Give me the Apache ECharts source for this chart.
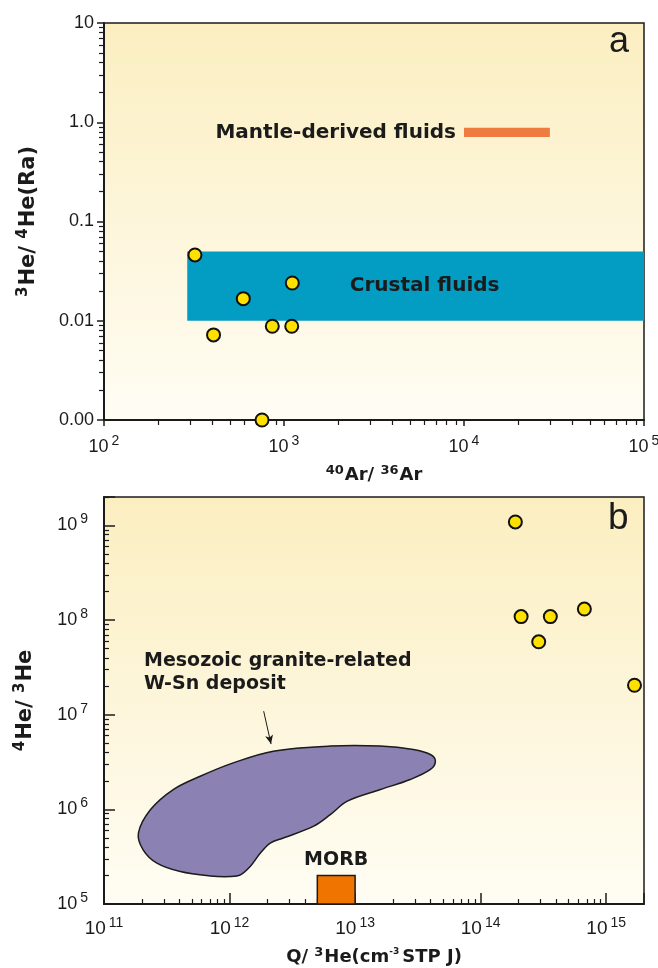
<!DOCTYPE html>
<html>
<head>
<meta charset="utf-8">
<script src="https://cdn.jsdelivr.net/npm/echarts@6/dist/echarts.min.js"></script>
<style>
  html, body { margin: 0; padding: 0; background: #fff; }
  #chart { width: 658px; height: 968px; }
</style>
</head>
<body>
<div id="chart"></div>
<script>
// ---- panel a: 40Ar/36Ar vs 3He/4He (Ra) ----
var arRatio = [320, 406, 594, 861, 1104, 1112, 755];
var heRa = [0.046, 0.0072, 0.0167, 0.0088, 0.0088, 0.024, 0.001];
var yTickValsA = [0.001, 0.01, 0.1, 1, 10];
var yTickLabelsA = ['0.00', '0.01', '0.1', '1.0', '10'];
var crustalX = [290, 100000];
var crustalY = [0.01, 0.05];
var mantleX = [10000, 30000];
var mantleY = [0.71, 0.88];

// ---- panel b: Q/3He vs 4He/3He ----
var q3He = [1.89e14, 2.1e14, 3.59e14, 6.7e14, 2.9e14, 1.68e15];
var he4He3 = [1.09e9, 1.09e8, 1.09e8, 1.31e8, 5.9e7, 2.05e7];
var morbX = [5e12, 1e13];
var morbY = [1e5, 2e5];
// outline of the Mesozoic granite-related W-Sn field
var fieldX = [1.88e11, 2.34e11, 3.56e11, 5.84e11, 1.07e12, 2.23e12, 6.34e12, 1.59e13, 2.91e13, 3.98e13,
  4.36e13, 3.98e13, 2.75e13, 1.59e13, 8.67e12, 6.34e12, 4.64e12, 2.68e12, 2.11e12, 1.76e12,
  1.46e12, 1.22e12, 1.01e12, 7.02e11, 4.05e11, 2.64e11, 2.05e11];
var fieldY = [5.62e5, 9.9e5, 1.62e6, 2.24e6, 3.1e6, 4.12e6, 4.66e6, 4.66e6, 4.3e6, 3.8e6,
  3.23e6, 2.64e6, 2.07e6, 1.62e6, 1.22e6, 8.79e5, 6.6e5, 4.98e5, 4.4e5, 3.45e5,
  2.49e5, 2.03e5, 1.95e5, 1.98e5, 2.2e5, 2.7e5, 3.74e5];
var arrowFrom = [1.87e12, 1.09e7];
var arrowTo = [2.14e12, 4.9e6];

var FONT = '"Liberation Sans", Arial, sans-serif';
var BOLD = '"DejaVu Sans", sans-serif';
var INK = '#1b1b1b';

function minorTicks(lo, hi) {
  var out = [];
  for (var d = lo; d < hi; d++) {
    for (var m = 2; m <= 9; m++) out.push(m * Math.pow(10, d));
  }
  return out;
}

function powLabel(v) {
  var e = Math.log10(v);
  if (Math.abs(e - Math.round(e)) > 1e-6) return '';
  return '{n|10}{s|' + Math.round(e) + '}';
}

function powRich(size) {
  return {
    n: { fontFamily: FONT, fontSize: size, color: INK },
    s: { fontFamily: FONT, fontSize: 14, color: INK, padding: [0, 0, 12, 3] }
  };
}

function nameRich(size, sup) {
  return {
    b: { fontFamily: BOLD, fontSize: size, fontWeight: 'bold', color: INK },
    s: { fontFamily: BOLD, fontSize: sup, fontWeight: 'bold', color: INK, padding: [0, 1, 10, 0] },
    t: { fontFamily: BOLD, fontSize: 9, fontWeight: 'bold', color: INK, padding: [0, 3, 12, 0] }
  };
}

function bg() {
  return {
    type: 'linear', x: 0, y: 0, x2: 0, y2: 1,
    colorStops: [{ offset: 0, color: '#fbeec0' }, { offset: 1, color: '#fffdf4' }]
  };
}

var chart = echarts.init(document.getElementById('chart'));

var minorAxis = function (grid, pos, lo, hi, min, max, inside) {
  return {
    type: 'log', gridIndex: grid, position: pos, min: min, max: max,
    axisLine: { show: false }, axisLabel: { show: false }, splitLine: { show: false },
    axisTick: { show: true, inside: inside, length: 5, customValues: minorTicks(lo, hi),
      lineStyle: { color: INK, width: 1.2 } }
  };
};

chart.setOption({
  animation: false,
  grid: [
    { left: 104, top: 23, width: 540, height: 397, show: true, backgroundColor: bg(),
      borderColor: INK, borderWidth: 1.5, outerBoundsMode: 'none', containLabel: false },
    { left: 104, top: 497, width: 540, height: 407, show: true, backgroundColor: bg(),
      borderColor: INK, borderWidth: 1.5, outerBoundsMode: 'none', containLabel: false }
  ],
  xAxis: [
    {
      type: 'log', gridIndex: 0, min: 100, max: 100000,
      name: '{s|40}{b|Ar/ }{s|36}{b|Ar}', nameLocation: 'middle', nameGap: 44,
      nameTextStyle: { rich: nameRich(18, 13) },
      axisLine: { lineStyle: { color: INK, width: 2 } },
      axisTick: { inside: false, length: 6, lineStyle: { color: INK, width: 1.5 } },
      axisLabel: { formatter: powLabel, rich: powRich(18), margin: 14 },
      splitLine: { show: false }
    },
    minorAxis(0, 'bottom', 2, 5, 100, 100000, false),
    {
      type: 'log', gridIndex: 1, min: 1e11, max: 2e15,
      name: '{b|Q/ }{s|3}{b|He(cm}{t|-3}{b|STP J)}', nameLocation: 'middle', nameGap: 42,
      nameTextStyle: { rich: nameRich(18, 13) },
      axisLine: { lineStyle: { color: INK, width: 2 } },
      axisTick: { inside: true, length: 11, lineStyle: { color: INK, width: 1.5 } },
      axisLabel: { formatter: powLabel, rich: powRich(19), margin: 12 },
      splitLine: { show: false }
    },
    minorAxis(1, 'bottom', 11, 16, 1e11, 2e15, true)
  ],
  yAxis: [
    {
      type: 'log', gridIndex: 0, min: 0.001, max: 10,
      name: '{s|3}{b|He/ }{s|4}{b|He(Ra)}', nameLocation: 'middle', nameGap: 63,
      nameTextStyle: { rich: nameRich(21, 15) },
      axisLine: { lineStyle: { color: INK, width: 2 } },
      axisTick: { inside: false, length: 7, lineStyle: { color: INK, width: 1.5 } },
      axisLabel: {
        fontFamily: FONT, fontSize: 18, color: INK, margin: 10,
        formatter: function (v) {
          for (var i = 0; i < yTickValsA.length; i++) {
            if (Math.abs(Math.log10(v) - Math.log10(yTickValsA[i])) < 1e-6) return yTickLabelsA[i];
          }
          return '';
        }
      },
      splitLine: { show: false }
    },
    minorAxis(0, 'left', -3, 1, 0.001, 10, false),
    {
      type: 'log', gridIndex: 1, min: 1e5, max: 2e9,
      name: '{s|4}{b|He/ }{s|3}{b|He}', nameLocation: 'middle', nameGap: 66,
      nameTextStyle: { rich: nameRich(21, 15) },
      axisLine: { lineStyle: { color: INK, width: 2 } },
      axisTick: { inside: true, length: 11, lineStyle: { color: INK, width: 1.5 } },
      axisLabel: { formatter: powLabel, rich: powRich(18), margin: 16 },
      splitLine: { show: false }
    },
    minorAxis(1, 'left', 5, 10, 1e5, 2e9, true)
  ],
  graphic: [
    { type: 'text', left: 609, top: 24, style: { text: 'a', font: '36px ' + FONT, fill: INK } },
    { type: 'text', left: 608, top: 500, style: { text: 'b', font: '37px ' + FONT, fill: INK } },
    { type: 'text', left: 144, top: 650, style: {
      text: 'Mesozoic granite-related\nW-Sn deposit', font: 'bold 19px ' + BOLD,
      fill: INK, lineHeight: 23 } }
  ],
  series: [
    {
      type: 'scatter', xAxisIndex: 0, yAxisIndex: 0, z: 5,
      data: arRatio.map(function (x, i) { return [x, heRa[i]]; }),
      symbolSize: 13,
      itemStyle: { color: '#ffe100', borderColor: '#111', borderWidth: 2, opacity: 1 },
      markArea: {
        silent: true,
        data: [
          [{ coord: [crustalX[0], crustalY[0]], itemStyle: { color: '#039cc3' },
             label: { show: true, position: 'inside', offset: [9, 0], formatter: 'Crustal fluids',
               fontFamily: BOLD, fontSize: 20, fontWeight: 'bold', color: INK } },
           { coord: [crustalX[1], crustalY[1]] }],
          [{ coord: [mantleX[0], mantleY[0]], itemStyle: { color: '#ee7b3f' },
             label: { show: true, position: 'left', distance: 8, formatter: 'Mantle-derived fluids',
               fontFamily: BOLD, fontSize: 20, fontWeight: 'bold', color: INK } },
           { coord: [mantleX[1], mantleY[1]] }]
        ]
      }
    },
    {
      type: 'custom', xAxisIndex: 2, yAxisIndex: 2, z: 2,
      data: [0],
      renderItem: function (params, api) {
        var pts = fieldX.map(function (x, i) { return api.coord([x, fieldY[i]]); });
        return {
          type: 'polygon',
          shape: { points: pts, smooth: 0.35 },
          style: { fill: '#8b81b3', stroke: INK, lineWidth: 1.5 }
        };
      }
    },
    {
      type: 'scatter', xAxisIndex: 2, yAxisIndex: 2, z: 5,
      data: q3He.map(function (x, i) { return [x, he4He3[i]]; }),
      symbolSize: 13,
      itemStyle: { color: '#ffe100', borderColor: '#111', borderWidth: 2, opacity: 1 },
      markArea: {
        silent: true,
        data: [
          [{ coord: [morbX[0], morbY[0]],
             itemStyle: { color: '#ef7400', borderColor: INK, borderWidth: 1.5 },
             label: { show: true, position: 'top', distance: 5, formatter: 'MORB',
               fontFamily: BOLD, fontSize: 19, fontWeight: 'bold', color: INK } },
           { coord: [morbX[1], morbY[1]] }]
        ]
      },
      markLine: {
        silent: true,
        symbol: ['none', 'arrow'], symbolSize: [6, 9],
        lineStyle: { color: INK, width: 1, type: 'solid' },
        label: { show: false },
        data: [[{ coord: arrowFrom }, { coord: arrowTo }]]
      }
    }
  ]
});
</script>
</body>
</html>
